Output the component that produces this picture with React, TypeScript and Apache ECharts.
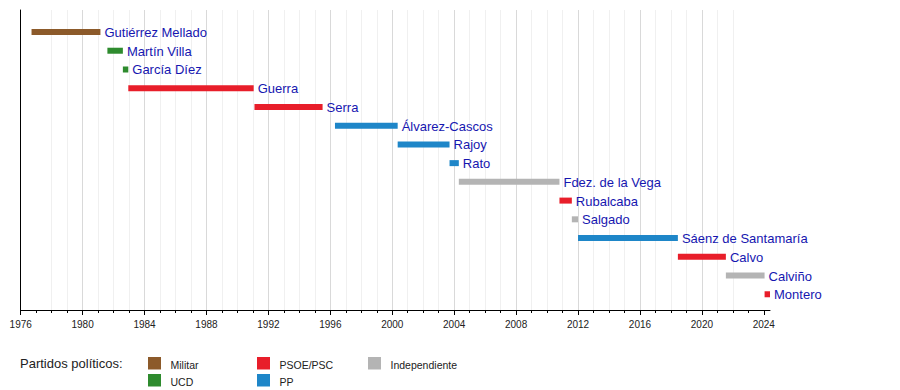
import React, { useEffect, useRef } from "react";
import * as echarts from "echarts";

const names = [
  "Gutiérrez Mellado",
  "Martín Villa",
  "García Díez",
  "Guerra",
  "Serra",
  "Álvarez-Cascos",
  "Rajoy",
  "Rato",
  "Fdez. de la Vega",
  "Rubalcaba",
  "Salgado",
  "Sáenz de Santamaría",
  "Calvo",
  "Calviño",
  "Montero",
];
const startYears = [1976.7, 1981.6, 1982.6, 1982.95, 1991.1, 1996.3, 2000.35, 2003.7, 2004.3, 2010.8, 2011.6, 2012.0, 2018.45, 2021.55, 2024.05];
const endYears = [1981.15, 1982.6, 1982.95, 1991.05, 1995.5, 2000.35, 2003.7, 2004.3, 2010.8, 2011.6, 2012.0, 2018.45, 2021.55, 2024.05, 2024.4];
const parties = ["Militar", "UCD", "UCD", "PSOE/PSC", "PSOE/PSC", "PP", "PP", "PP", "Independiente", "PSOE/PSC", "Independiente", "PP", "PSOE/PSC", "Independiente", "PSOE/PSC"];

const partyNames = ["Militar", "UCD", "PSOE/PSC", "PP", "Independiente"];
const partyColors = ["#8c5a2a", "#2e8b2e", "#e81e2a", "#1e86c8", "#b4b4b4"];
const legendTitle = "Partidos políticos:";

const majorTicks = [1976, 1980, 1984, 1988, 1992, 1996, 2000, 2004, 2008, 2012, 2016, 2020, 2024];
const minorTicks = [
  1977, 1978, 1979, 1981, 1982, 1983, 1985, 1986, 1987, 1989, 1990, 1991, 1993, 1994, 1995, 1997, 1998, 1999,
  2001, 2002, 2003, 2005, 2006, 2007, 2009, 2010, 2011, 2013, 2014, 2015, 2017, 2018, 2019, 2021, 2022, 2023,
];
const axisMin = 1976;
const axisMax = 2024.4;

const FONT = "Liberation Sans, Arial, Helvetica, sans-serif";

export default function App() {
  const ref = useRef<HTMLDivElement>(null);
  useEffect(() => {
    if (!ref.current) return;
    const chart = echarts.init(ref.current, null, { renderer: "svg" });
    const colorOf = (p: string) => partyColors[partyNames.indexOf(p)];
    const data = names.map((n, i) => [startYears[i], endYears[i], i]);

    const legendGraphics: any[] = [
      {
        type: "text",
        x: 20,
        y: 363,
        style: { text: legendTitle, font: `13px ${FONT}`, fill: "#222", verticalAlign: "middle" },
      },
    ];
    const legendCols = [148, 148, 257, 257, 368];
    const legendRows = [357, 374, 357, 374, 357];
    partyNames.forEach((p, i) => {
      legendGraphics.push({
        type: "rect",
        shape: { x: legendCols[i], y: legendRows[i], width: 13, height: 12.5 },
        style: { fill: partyColors[i] },
      });
      legendGraphics.push({
        type: "text",
        x: legendCols[i] + 22.5,
        y: legendRows[i] + 7.5,
        style: { text: p, font: `10.5px ${FONT}`, fill: "#222", verticalAlign: "middle" },
      });
    });

    chart.setOption({
      animation: false,
      grid: { left: 20.7, right: 130, top: 10, bottom: 80 },
      xAxis: [
        {
          type: "value",
          min: axisMin,
          max: axisMax,
          interval: 4,
          z: 1,
          axisLine: { show: true, onZero: false, lineStyle: { color: "#000", width: 1 } },
          axisTick: { show: true, length: 5, customValues: majorTicks, lineStyle: { color: "#000" } },
          axisLabel: {
            show: true,
            customValues: majorTicks,
            margin: 9,
            fontSize: 10,
            fontFamily: FONT,
            color: "#222",
            formatter: (v: number) => String(Math.round(v)),
          },
          splitLine: { show: true, showMinLine: false, showMaxLine: false, lineStyle: { color: "#d9d9d9", width: 1 } },
        },
        {
          type: "value",
          min: axisMin,
          max: axisMax,
          interval: 1,
          position: "bottom",
          z: 0,
          axisLine: { show: false, onZero: false },
          axisTick: { show: true, length: 3, customValues: minorTicks, lineStyle: { color: "#000" } },
          axisLabel: { show: false },
          splitLine: { show: true, showMinLine: false, showMaxLine: false, lineStyle: { color: "#f0f0f0", width: 1 } },
        },
      ],
      yAxis: {
        type: "value",
        inverse: true,
        min: -1.174,
        max: 14.84,
        axisLine: { show: true, onZero: false, lineStyle: { color: "#000", width: 1 } },
        axisTick: { show: false },
        axisLabel: { show: false },
        splitLine: { show: false },
      },
      series: [
        {
          type: "custom",
          xAxisIndex: 0,
          encode: { x: [0, 1], y: 2 },
          data,
          z: 5,
          clip: false,
          renderItem: (params: any, api: any) => {
            const i = params.dataIndex;
            const s = api.value(0);
            const e = api.value(1);
            const row = api.value(2);
            const p0 = api.coord([s, row]);
            const p1 = api.coord([e, row]);
            const h = 6;
            return {
              type: "group",
              children: [
                {
                  type: "rect",
                  shape: { x: p0[0], y: p0[1] - h / 2, width: Math.max(p1[0] - p0[0], 1), height: h },
                  style: { fill: colorOf(parties[i]) },
                },
                {
                  type: "text",
                  style: {
                    text: names[i],
                    x: p1[0] + 4,
                    y: p1[1] + 0.5,
                    verticalAlign: "middle",
                    align: "left",
                    fill: "#1616b0",
                    font: `13px ${FONT}`,
                  },
                },
              ],
            };
          },
        },
      ],
      graphic: legendGraphics,
    });
    return () => chart.dispose();
  }, []);
  return <div ref={ref} style={{ position: "absolute", left: 0, top: 0, width: 900, height: 390 }} />;
}
